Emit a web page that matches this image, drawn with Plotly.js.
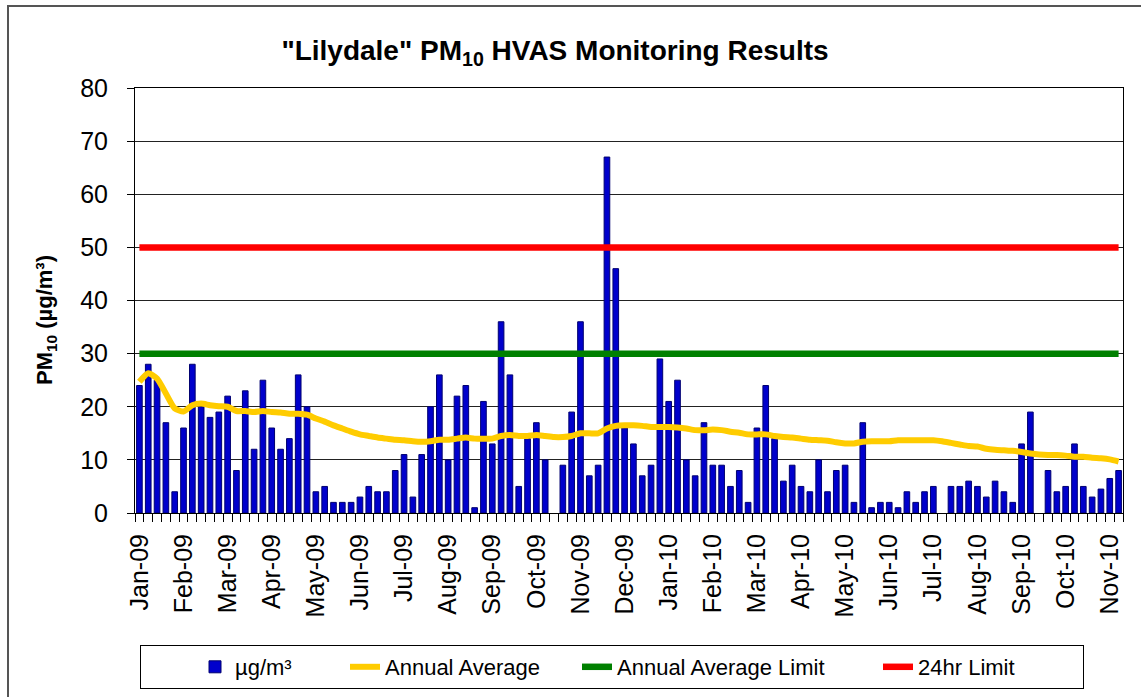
<!DOCTYPE html>
<html>
<head>
<meta charset="utf-8">
<script src="https://cdn.plot.ly/plotly-3.0.1.min.js"></script>
<style>
  html, body { margin: 0; padding: 0; background: #ffffff; }
  #chart { width: 1141px; height: 697px; }
</style>
</head>
<body>
<div id="chart"></div>
<script>
// ---- data ----
const tickLabels = ['Jan-09','Feb-09','Mar-09','Apr-09','May-09','Jun-09','Jul-09','Aug-09','Sep-09','Oct-09','Nov-09','Dec-09',
                    'Jan-10','Feb-10','Mar-10','Apr-10','May-10','Jun-10','Jul-10','Aug-10','Sep-10','Oct-10','Nov-10'];

const pm10 = [24,28,25,17,4,16,28,20,18,19,
              22,8,23,12,25,16,12,14,26,20,
              4,5,2,2,2,3,5,4,4,8,
              11,3,11,20,26,10,22,24,1,21,
              13,36,26,5,14,17,10,null,9,19,
              36,7,9,67,46,16,13,7,9,29,
              21,25,10,7,17,9,9,5,8,2,
              16,24,14,6,9,5,4,10,4,8,
              9,2,17,1,2,2,1,4,2,4,
              5,null,5,5,6,5,3,6,4,2,
              13,19,null,8,4,5,13,5,3,4.5,
              6.5,8];

const annualAvg = [24.7,26.3,25.3,22.5,19.7,19.1,20.3,20.6,20.3,20.1,
                   20.0,19.2,19.2,19.0,19.2,19.0,18.9,18.7,18.7,18.5,
                   17.8,17.2,16.5,15.9,15.3,14.8,14.5,14.2,14.0,13.8,
                   13.7,13.5,13.4,13.5,13.8,13.8,14.0,14.2,14.0,14.0,
                   14.0,14.5,14.7,14.5,14.5,14.7,14.5,14.3,14.3,14.5,
                   15.0,15.0,15.0,15.9,16.4,16.5,16.5,16.4,16.2,16.2,
                   16.2,16.1,15.9,15.6,15.6,15.7,15.6,15.3,15.1,14.8,
                   14.8,14.8,14.5,14.3,14.2,14.0,13.8,13.7,13.6,13.3,
                   13.1,13.1,13.4,13.5,13.5,13.5,13.7,13.7,13.7,13.7,
                   13.7,13.5,13.2,12.9,12.6,12.5,12.1,11.9,11.8,11.7,
                   11.5,11.2,11.0,10.9,10.9,10.8,10.6,10.6,10.4,10.3,
                   10.1,9.7];

const annualLimit = 30;
const dailyLimit = 50;

// ---- geometry helpers (plot area in pixels) ----
const PL = 135, PR = 1123, PT = 88, PB = 513;
const px2x = p => (p - PL) / (PR - PL);
const px2y = p => (PB - p) / (PB - PT);

const idx = pm10.map((_, i) => i);
const lastIdx = idx[idx.length - 1];
const tickPos = tickLabels.map((_, i) => i * 5);

const FONT = 'Liberation Sans, Arial, sans-serif';

const traces = [
  {
    type: 'bar', name: 'µg/m³', x: idx, y: pm10,
    marker: { color: '#0000CC', line: { color: '#000070', width: 1 } },
    legendwidth: 51, hoverinfo: 'y'
  },
  {
    type: 'scatter', mode: 'lines', name: 'Annual Average', x: idx, y: annualAvg,
    line: { color: '#FFCC00', width: 6, shape: 'spline', smoothing: 0.6 },
    legendwidth: 133
  },
  {
    type: 'scatter', mode: 'lines', name: 'Annual Average Limit',
    x: [idx[0], lastIdx], y: [annualLimit, annualLimit],
    line: { color: '#008000', width: 6.5 },
    legendwidth: 202
  },
  {
    type: 'scatter', mode: 'lines', name: '24hr Limit',
    x: [idx[0], lastIdx], y: [dailyLimit, dailyLimit],
    line: { color: '#FF0000', width: 6.5 },
    legendwidth: 160
  }
];

const layout = {
  width: 1141, height: 697,
  margin: { l: PL, r: 1141 - PR, t: PT, b: 697 - PB, autoexpand: false },
  paper_bgcolor: '#ffffff', plot_bgcolor: '#ffffff',
  font: { family: FONT, color: '#000000' },
  title: {
    text: '"Lilydale" PM<sub>10</sub> HVAS Monitoring Results',
    font: { family: FONT, size: 28, weight: 'bold', color: '#000' },
    xref: 'container', yref: 'container',
    x: 555 / 1141, xanchor: 'center',
    y: 1 - 50 / 697, yanchor: 'middle'
  },
  bargap: 0.36,
  showlegend: true,
  legend: {
    orientation: 'h',
    xref: 'paper', yref: 'paper',
    x: px2x(140), xanchor: 'left',
    y: px2y(645), yanchor: 'top',
    bordercolor: '#000000', borderwidth: 1,
    bgcolor: '#ffffff',
    indentation: 54,
    font: { family: FONT, size: 22, color: '#000' },
    traceorder: 'normal'
  },
  xaxis: {
    type: 'linear',
    range: [-0.5, lastIdx + 0.5],
    tickmode: 'array', tickvals: tickPos, ticktext: tickLabels,
    tickangle: -90,
    ticks: '',
    ticklabelstandoff: 10,
    tickfont: { family: FONT, size: 25, color: '#000' },
    minor: { tick0: 0.5, dtick: 1, ticks: 'outside', ticklen: 8, tickwidth: 1, tickcolor: '#000', showgrid: false },
    showgrid: false, zeroline: false,
    showline: true, linecolor: '#000', linewidth: 1, mirror: true,
    automargin: false,
    fixedrange: true
  },
  yaxis: {
    range: [0, 80], dtick: 10, tick0: 0,
    ticks: 'outside', ticklen: 7, tickwidth: 1, tickcolor: '#000',
    ticklabelstandoff: 14,
    tickfont: { family: FONT, size: 25, color: '#000' },
    showgrid: true, gridcolor: '#222222', gridwidth: 1,
    zeroline: false,
    showline: true, linecolor: '#000', linewidth: 1, mirror: true,
    automargin: false,
    fixedrange: true
  },
  annotations: [
    { text: '<b>PM<sub>10</sub> (µg/m³)</b>', textangle: -90,
      xref: 'paper', yref: 'paper', x: px2x(46), y: px2y(320),
      xanchor: 'center', yanchor: 'middle', showarrow: false,
      font: { family: FONT, size: 22, color: '#000' } }
  ],
  shapes: [
    { type: 'rect', xref: 'paper', yref: 'paper', layer: 'above',
      x0: px2x(8), x1: px2x(1160), y0: px2y(6), y1: px2y(720),
      line: { color: '#555555', width: 2 }, fillcolor: 'rgba(0,0,0,0)' }
  ]
};

Plotly.newPlot('chart', traces, layout, { displayModeBar: false, staticPlot: true });
</script>
</body>
</html>
